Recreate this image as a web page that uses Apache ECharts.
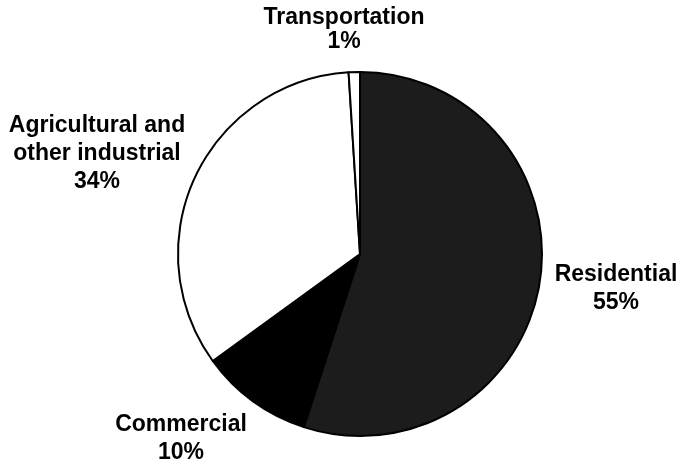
<!DOCTYPE html>
<html>
<head>
<meta charset="utf-8">
<script src="https://cdn.jsdelivr.net/npm/echarts@6/dist/echarts.min.js"></script>
<style>
  html, body { margin: 0; padding: 0; background: #fff; }
  #chart { width: 681px; height: 461px; }
</style>
</head>
<body>
<div id="chart"></div>
<script>
// 数据
const categories = ['Residential', 'Commercial', 'Agricultural and\nother industrial', 'Transportation']
const shares = [55, 10, 34, 1]

// slice fills, same order as categories
const fills = ['#1c1c1c', '#000000', '#ffffff', '#ffffff']
// label centres, offset from the pie centre (px)
const labelOffsets = [[256, 35], [-179, 185], [-263, -100], [-16, -224]]
const labelLineHeights = [28, 28, 28, 24]

const cx = 360
const cy = 254

const chart = echarts.init(document.getElementById('chart'))

const option = {
  animation: false,
  series: [
    {
      type: 'pie',
      center: [cx, cy],
      radius: 182,
      startAngle: 90,
      clockwise: true,
      data: categories.map((name, i) => ({
        name: name,
        value: shares[i],
        itemStyle: { color: fills[i] },
        label: { lineHeight: labelLineHeights[i] }
      })),
      itemStyle: {
        borderColor: '#000',
        borderWidth: 2
      },
      label: {
        show: true,
        position: 'outside',
        alignTo: 'none',
        overflow: 'none',
        formatter: '{b}\n{c}%',
        fontFamily: 'Liberation Sans, Arial, sans-serif',
        fontWeight: 'bold',
        fontSize: 23,
        lineHeight: 28,
        color: '#000',
        align: 'center'
      },
      labelLine: { show: false },
      labelLayout: function (params) {
        const off = labelOffsets[params.dataIndex]
        return {
          x: cx + off[0],
          y: cy + off[1],
          align: 'center',
          verticalAlign: 'middle',
          width: 260
        }
      },
      emphasis: { disabled: true }
    }
  ]
}

chart.setOption(option)
</script>
</body>
</html>
